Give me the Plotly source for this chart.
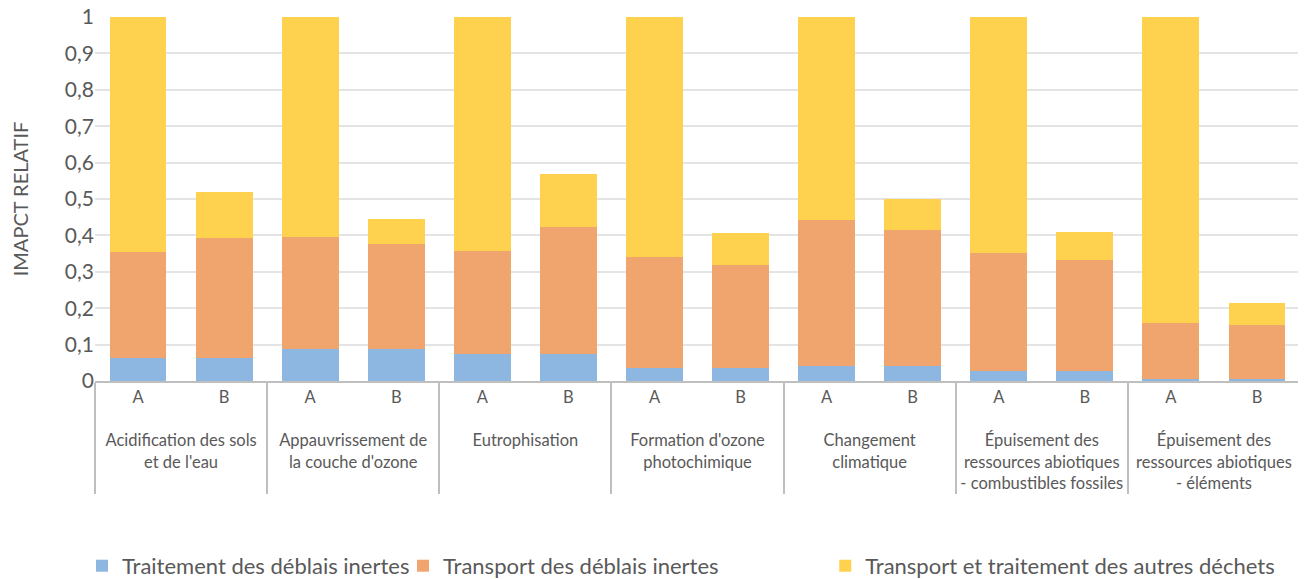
import plotly.graph_objects as go

# categories
groups = ["Acidification des sols<br>et de l'eau",
          "Appauvrissement de<br>la couche d'ozone",
          "Eutrophisation",
          "Formation d'ozone<br>photochimique",
          "Changement<br>climatique",
          "Épuisement des<br>ressources abiotiques<br>- combustibles fossiles",
          "Épuisement des<br>ressources abiotiques<br>- éléments"]
variants = ["A", "B"]

# values (A, B per group)
traitement = [0.062, 0.062, 0.087, 0.087, 0.074, 0.074, 0.037, 0.037,
              0.040, 0.040, 0.028, 0.028, 0.006, 0.006]
transport = [0.293, 0.330, 0.308, 0.289, 0.284, 0.349, 0.304, 0.282,
             0.403, 0.375, 0.325, 0.305, 0.154, 0.148]
autres = [0.645, 0.126, 0.605, 0.069, 0.642, 0.146, 0.659, 0.087,
          0.557, 0.084, 0.647, 0.076, 0.840, 0.059]

names = ["Traitement des déblais inertes",
         "Transport des déblais inertes",
         "Transport et traitement des autres déchets"]
colors = ["rgb(141,183,224)", "rgb(240,164,110)", "rgb(254,210,78)"]

xg = ["<br>" + g for g in groups for v in variants]  # blank line pushes group labels down
xv = [v for g in groups for v in variants]

fig = go.Figure()
for i, (vals, nm, col) in enumerate(zip([traitement, transport, autres], names, colors)):
    fig.add_trace(go.Bar(x=[xg, xv], y=vals, name=nm, marker_color=col,
                         marker_line_width=0, showlegend=True,
                         legend="legend" if i == 0 else "legend" + str(i + 1)))

font_fam = "Lato, 'Open Sans', sans-serif"
leg_common = dict(orientation="h", yanchor="middle", y=-0.508, xanchor="left",
                  font=dict(size=22, color="#595959", family=font_fam),
                  bgcolor="rgba(0,0,0,0)", itemwidth=30, visible=True)

# page body has an 8px margin, so margins are shifted by 8px
fig.update_layout(
    barmode="stack",
    bargap=0.34,
    separators=", ",
    width=1306, height=579,
    margin=dict(l=87, r=14, t=9, b=206, autoexpand=False),
    plot_bgcolor="white", paper_bgcolor="white",
    font=dict(family=font_fam, color="#595959"),
    legend=dict(leg_common, x=-0.0108),
    legend2=dict(leg_common, x=0.2556),
    legend3=dict(leg_common, x=0.606),
    yaxis=dict(range=[0, 1], dtick=0.1, showgrid=True, gridcolor="#e4e4e4",
               gridwidth=1.5, zeroline=False, tickfont=dict(size=21),
               ticklabeloverflow="allow",
               ticks="", title=dict(text="IMAPCT RELATIF", font=dict(size=20), standoff=36)),
    xaxis=dict(type="multicategory", showline=True, linecolor="#bfbfbf", linewidth=2,
               showdividers=True, dividercolor="#bfbfbf", dividerwidth=1.5,
               tickfont=dict(size=16.5), ticks=""),
)

fig.write_html("out.html")
